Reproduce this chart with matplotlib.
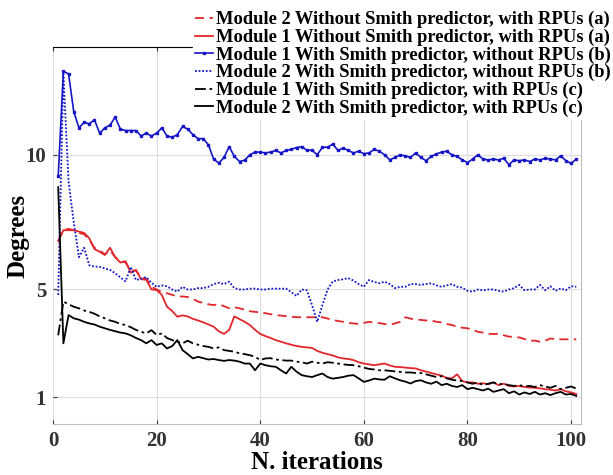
import matplotlib
matplotlib.use("Agg")
import matplotlib.pyplot as plt
import numpy as np

iterations = list(range(1, 102))

m2_nosmith_rpu = [6.8, 7.2, 7.25, 7.2, 7.1, 7.05, 6.85, 6.55, 6.45, 6.3,
                  6.45, 6.2, 6.05, 6.0, 5.7, 5.7, 5.45, 5.4, 5.1, 5.0,
                  4.9, 4.86, 4.8, 4.74, 4.74, 4.72, 4.65, 4.55, 4.5, 4.45,
                  4.42, 4.46, 4.38, 4.3, 4.34, 4.3, 4.25, 4.19, 4.17, 4.15,
                  4.12, 4.08, 4.05, 4.03, 4.01, 3.99, 3.97, 3.97, 3.97, 3.97,
                  3.97, 3.97, 3.92, 3.87, 3.83, 3.8, 3.76, 3.74, 3.72, 3.76,
                  3.8, 3.77, 3.75, 3.72, 3.68, 3.74, 3.8, 3.97, 3.92, 3.88,
                  3.87, 3.85, 3.85, 3.8, 3.78, 3.72, 3.68, 3.62, 3.58, 3.56,
                  3.5, 3.43, 3.4, 3.35, 3.35, 3.35, 3.3, 3.25, 3.24, 3.22,
                  3.16, 3.1, 3.1, 3.06, 3.1, 3.18, 3.16, 3.15, 3.15, 3.15, 3.15]

m1_nosmith_rpu = [6.8, 7.2, 7.2, 7.2, 7.15, 7.1, 6.9, 6.5, 6.4, 6.28,
                  6.55, 6.2, 6.0, 6.05, 5.62, 5.73, 5.38, 5.36, 5.0, 4.98,
                  4.8, 4.36, 4.2, 3.99, 4.04, 4.0, 3.91, 3.85, 3.78, 3.7,
                  3.62, 3.45, 3.35, 3.5, 4.0, 3.9, 3.8, 3.68, 3.5, 3.35,
                  3.27, 3.2, 3.12, 3.06, 3.0, 2.95, 2.9, 2.87, 2.85, 2.83,
                  2.72, 2.65, 2.6, 2.55, 2.48, 2.44, 2.42, 2.38, 2.3, 2.25,
                  2.22, 2.19, 2.22, 2.25, 2.18, 2.13, 2.12, 2.1, 2.08, 2.07,
                  2.0, 1.95, 1.9, 1.85, 1.8, 1.72, 1.7, 1.85, 1.6, 1.55,
                  1.55, 1.5, 1.52, 1.48, 1.55, 1.45, 1.5, 1.42, 1.4, 1.42,
                  1.38, 1.36, 1.35, 1.33, 1.3, 1.28, 1.25, 1.3, 1.22, 1.18, 1.12]

m1_smith_norpu = [9.2, 13.1, 13.0, 11.6, 11.0, 11.2, 11.15, 11.3, 10.8, 11.0,
                  11.1, 11.4, 10.95, 10.9, 10.9, 10.9, 10.7, 10.8, 10.7, 10.8,
                  11.0, 10.7, 10.65, 10.75, 11.05, 10.95, 10.75, 10.6, 10.6, 10.37,
                  9.84, 9.69, 9.9, 10.3, 9.94, 9.75, 9.8, 10.0, 10.1, 10.1,
                  10.07, 10.1, 10.16, 10.07, 10.16, 10.2, 10.27, 10.3, 10.17, 10.17,
                  10.0, 10.28, 10.28, 10.4, 10.16, 10.25, 10.16, 10.07, 10.13, 10.04,
                  10.07, 10.2, 10.13, 10.0, 9.81, 9.9, 10.0, 9.96, 9.9, 10.07,
                  9.9, 9.78, 9.94, 10.03, 10.1, 10.13, 10.0, 9.94, 9.81, 9.71,
                  9.84, 10.0, 9.84, 9.81, 9.84, 9.81, 9.87, 9.63, 9.81, 9.78,
                  9.81, 9.75, 9.84, 9.81, 9.87, 9.84, 9.81, 9.96, 9.78, 9.68, 9.84]

m2_smith_norpu = [4.8, 13.0, 9.0, 7.5, 6.2, 6.55, 5.9, 5.85, 5.84, 5.78,
                  5.73, 5.6, 5.45, 5.3, 5.84, 5.35, 5.4, 5.46, 5.25, 5.1,
                  5.15, 5.12, 5.0, 4.92, 5.1, 5.0, 5.0, 5.05, 5.05, 5.1,
                  5.2, 5.25, 5.2, 5.29, 5.05, 5.0, 5.0, 5.03, 5.03, 5.0,
                  5.0, 5.03, 5.03, 5.03, 5.03, 4.9, 4.76, 5.0, 4.97, 4.42,
                  3.8, 4.42, 5.0, 5.3, 5.35, 5.38, 5.42, 5.33, 5.2, 5.1,
                  5.35, 5.28, 5.23, 5.29, 5.2, 5.05, 5.1, 5.1, 5.2, 5.2,
                  5.17, 5.2, 5.23, 5.15, 5.1, 5.15, 5.2, 5.1, 5.07, 4.95,
                  4.92, 5.0, 4.97, 5.0, 5.0, 4.95, 4.92, 5.0, 5.05, 5.17,
                  4.97, 5.0, 5.0, 5.17, 4.97, 5.12, 4.95, 5.04, 4.97, 5.12, 5.1]

m1_smith_rpu = [3.3, 4.55, 4.45, 4.36, 4.3, 4.22, 4.17, 4.1, 4.0, 3.93,
                3.85, 3.8, 3.72, 3.68, 3.6, 3.5, 3.43, 3.37, 3.49, 3.31,
                3.37, 3.2, 3.12, 3.06, 3.0, 3.1, 3.0, 2.95, 2.9, 2.87,
                2.81, 2.85, 2.75, 2.72, 2.69, 2.63, 2.6, 2.56, 2.5, 2.38,
                2.44, 2.45, 2.4, 2.38, 2.36, 2.36, 2.32, 2.3, 2.25, 2.32,
                2.28, 2.25, 2.3, 2.28, 2.25, 2.22, 2.2, 2.19, 2.15, 2.1,
                2.05, 2.03, 2.0, 2.0, 1.98, 1.96, 1.94, 1.92, 1.92, 1.9,
                1.9, 1.85, 1.8, 1.75, 1.78, 1.7, 1.65, 1.62, 1.6, 1.55,
                1.5, 1.55, 1.45, 1.5, 1.55, 1.48, 1.5, 1.45, 1.42, 1.45,
                1.4, 1.42, 1.38, 1.45, 1.4, 1.35, 1.42, 1.3, 1.35, 1.4, 1.32]

m2_smith_rpu = [8.8, 3.0, 4.05, 3.93, 3.88, 3.8, 3.74, 3.7, 3.62, 3.56,
                3.5, 3.45, 3.4, 3.37, 3.3, 3.2, 3.12, 3.0, 3.12, 2.94,
                3.0, 2.81, 2.9, 3.12, 2.75, 2.6, 2.44, 2.5, 2.45, 2.4,
                2.42, 2.38, 2.35, 2.38, 2.36, 2.32, 2.25, 2.25, 2.0, 2.25,
                2.19, 2.15, 2.13, 2.0, 1.88, 2.13, 1.95, 1.82, 1.78, 1.75,
                1.82, 1.88, 1.75, 1.69, 1.72, 1.75, 1.8, 1.82, 1.7, 1.57,
                1.62, 1.69, 1.66, 1.65, 1.78, 1.7, 1.63, 1.58, 1.51, 1.6,
                1.63, 1.55, 1.5, 1.58, 1.45, 1.5, 1.42, 1.38, 1.45, 1.3,
                1.35, 1.3, 1.25, 1.32, 1.2, 1.25, 1.3, 1.15, 1.22, 1.1,
                1.18, 1.12, 1.2, 1.1, 1.15, 1.08, 1.15, 1.2, 1.1, 1.12, 1.05]

labels = ["Module 2 Without Smith predictor, with RPUs (a)",
          "Module 1 Without Smith predictor, with RPUs (a)",
          "Module 1 With Smith predictor, without RPUs (b)",
          "Module 2 With Smith predictor, without RPUs (b)",
          "Module 1 With Smith predictor, with RPUs (c)",
          "Module 2 With Smith predictor, with RPUs (c)"]

xticks = [0, 20, 40, 60, 80, 100]
yticks = [1, 5, 10]

plt.rcParams['font.family'] = ['Liberation Serif', 'DejaVu Serif']
plt.rcParams['font.weight'] = 'bold'

fig = plt.figure(figsize=(6.13, 4.75), dpi=100)
ax = fig.add_axes([0.0865, 0.107, 0.862, 0.794])

red = '#e3262b'
blue = '#1515c8'

h1, = ax.plot(iterations, m2_nosmith_rpu, color=red, lw=1.3, ls=(0, (5, 3)))
h2, = ax.plot(iterations, m1_nosmith_rpu, color=red, lw=1.3, ls='-')
h3, = ax.plot(iterations, m1_smith_norpu, color=blue, lw=1.2, ls='-',
              marker='s', markersize=1.6)
h4, = ax.plot(iterations, m2_smith_norpu, color=blue, lw=1.3, ls=(0, (1, 1)))
h5, = ax.plot(iterations, m1_smith_rpu, color='black', lw=1.3, ls=(0, (6, 2, 1.5, 2)))
h6, = ax.plot(iterations, m2_smith_rpu, color='black', lw=1.3, ls='-')

ax.set_xlim(0, 102)
ax.set_ylim(0, 14)
ax.set_xticks(xticks)
ax.set_yticks(yticks)
ax.set_xticklabels([str(t) for t in xticks], fontsize=15, fontweight='bold')
ax.set_yticklabels([str(t) for t in yticks], fontsize=15, fontweight='bold')
ax.tick_params(direction='in', length=3, width=0.8, top=True, colors='#333333',
               pad=5)
ax.grid(True, color='#dddddd', lw=0.8)
ax.set_axisbelow(True)
for s in ['bottom', 'right']:
    ax.spines[s].set_color('#bbbbbb')
ax.spines['left'].set_visible(False)
ax.spines['top'].set_color('black')

ax.set_xlabel('N. iterations', fontsize=18, fontweight='bold', labelpad=0)
ax.set_ylabel('Degrees', fontsize=18, fontweight='bold', labelpad=-3)

leg = fig.legend([h1, h2, h3, h4, h5, h6], labels, loc='upper right',
                 bbox_to_anchor=(1.015, 1.0),
                 prop={'weight': 'bold', 'size': 13.3},
                 handlelength=1.0, handletextpad=0.15, labelspacing=0.02,
                 borderpad=0.1, frameon=True, fancybox=False)
leg.get_frame().set_facecolor('white')
leg.get_frame().set_edgecolor('white')
leg.get_frame().set_alpha(1.0)

fig.savefig('out.png', dpi=100)
